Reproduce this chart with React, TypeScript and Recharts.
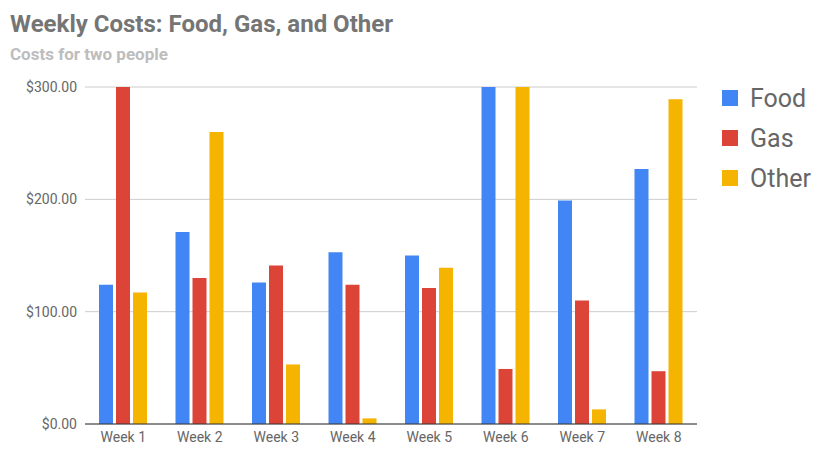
import React from 'react'
import { BarChart, Bar, XAxis, YAxis, CartesianGrid } from 'recharts'

const weeks = ['Week 1', 'Week 2', 'Week 3', 'Week 4', 'Week 5', 'Week 6', 'Week 7', 'Week 8']
const food = [124, 171, 126, 153, 150, 300, 199, 227]
const gas = [300, 130, 141, 124, 121, 49, 110, 47]
const other = [117, 260, 53, 5, 139, 300, 13, 289]
const yTicks = [0, 100, 200, 300]

const series = [
  { key: 'food', name: 'Food', color: '#4285F4' },
  { key: 'gas', name: 'Gas', color: '#DB4437' },
  { key: 'other', name: 'Other', color: '#F4B400' },
]

const data = weeks.map((w, i) => ({ week: w, food: food[i], gas: gas[i], other: other[i] }))

export default function App() {
  return (
    <div style={{ position: 'relative', width: 810, height: 448, fontFamily: 'Roboto, sans-serif' }}>
      <div style={{ position: 'absolute', left: 2, top: 2, fontSize: 24, fontWeight: 'bold', color: '#757575' }}>
        Weekly Costs: Food, Gas, and Other
      </div>
      <div style={{ position: 'absolute', left: 2, top: 36, fontSize: 17, fontWeight: 'bold', color: '#bdbdbd' }}>
        Costs for two people
      </div>
      <div style={{ position: 'absolute', top: 70, left: 0 }}>
        <BarChart width={700} height={378} data={data} margin={{ top: 9, right: 11, bottom: 2, left: 0 }}
          barSize={14} barGap={3}>
          <CartesianGrid vertical={false} stroke="#cccccc" />
          <XAxis dataKey="week" tickLine={false} stroke="#333" height={30}
            tick={{ fill: '#666', fontSize: 14 }} />
          <YAxis width={77} domain={[0, 300]} ticks={yTicks} allowDataOverflow axisLine={false} tickLine={false}
            tick={{ fill: '#666', fontSize: 14 }} tickFormatter={(v: number) => `$${v.toFixed(2)}`} />
          {series.map(s => (
            <Bar key={s.key} dataKey={s.key} name={s.name} fill={s.color} isAnimationActive={false} />
          ))}
        </BarChart>
      </div>
      <div style={{ position: 'absolute', left: 714, top: 70 }}>
        {series.map(s => (
          <div key={s.key} style={{ display: 'flex', alignItems: 'center', height: 40 }}>
            <div style={{ width: 16, height: 16, background: s.color, marginRight: 12 }} />
            <span style={{ fontSize: 25, color: '#666' }}>{s.name}</span>
          </div>
        ))}
      </div>
    </div>
  )
}
